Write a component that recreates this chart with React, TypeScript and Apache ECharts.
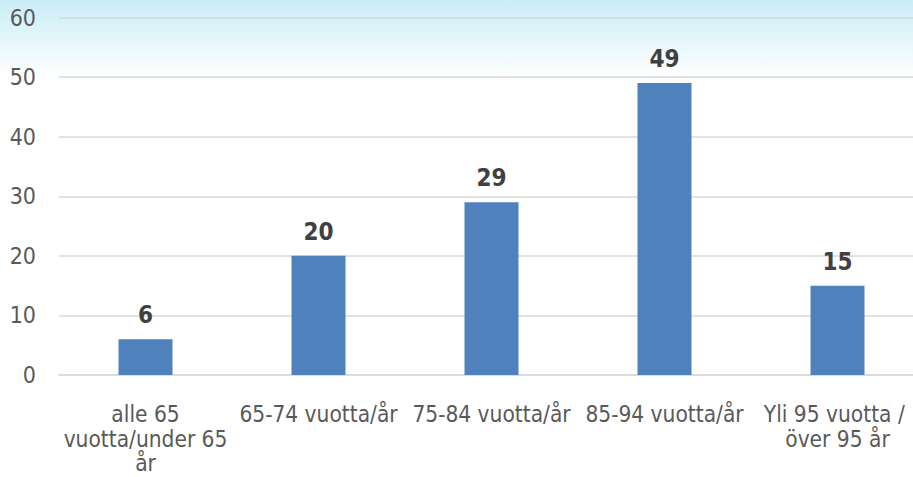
import React, { useEffect, useRef } from "react";
import * as echarts from "echarts";

const categories = [
  "alle 65\nvuotta/under 65\når",
  "65-74 vuotta/år",
  "75-84 vuotta/år",
  "85-94 vuotta/år",
  "Yli 95 vuotta / \növer 95 år",
];
const values = [6, 20, 29, 49, 15];
const yTicks = { min: 0, max: 60, interval: 10 };

const FONT = "'DejaVu Sans Condensed', 'DejaVu Sans', sans-serif";

export default function App() {
  const ref = useRef<HTMLDivElement>(null);
  useEffect(() => {
    if (!ref.current) return;
    const chart = echarts.init(ref.current, null, { renderer: "svg" });
    chart.setOption({
      animation: false,
      backgroundColor: new echarts.graphic.LinearGradient(0, 0, 0, 1, [
        { offset: 0, color: "#c9ecf6" },
        { offset: 0.16, color: "#ffffff" },
        { offset: 1, color: "#ffffff" },
      ]),
      grid: {
        left: 59,
        top: 17.5,
        width: 865,
        height: 357.5,
        containLabel: false,
        outerBoundsMode: "none",
      },
      xAxis: {
        type: "category",
        data: categories,
        axisLine: { show: true, lineStyle: { color: "#d9d9d9", width: 1.5 } },
        axisTick: { show: false },
        axisLabel: {
          interval: 0,
          margin: 27,
          color: "#595959",
          fontFamily: FONT,
          fontSize: 22.5,
          lineHeight: 24.5,
        },
      },
      yAxis: {
        type: "value",
        min: yTicks.min,
        max: yTicks.max,
        interval: yTicks.interval,
        axisLine: { show: false },
        axisTick: { show: false },
        splitLine: { lineStyle: { color: "#d9d9d9", width: 1.5 } },
        axisLabel: {
          margin: 23,
          color: "#595959",
          fontFamily: FONT,
          fontSize: 23,
        },
      },
      series: [
        {
          type: "bar",
          data: values,
          barWidth: 54,
          itemStyle: { color: "#4f81bd" },
          label: {
            show: true,
            position: "top",
            distance: 12,
            color: "#404040",
            fontFamily: FONT,
            fontWeight: "bold",
            fontSize: 24,
          },
        },
      ],
    });
    return () => chart.dispose();
  }, []);
  return (
    <div style={{ position: "fixed", left: 0, top: 0, width: 913, height: 477, overflow: "hidden" }}>
      <div ref={ref} style={{ width: 930, height: 477 }} />
    </div>
  );
}
